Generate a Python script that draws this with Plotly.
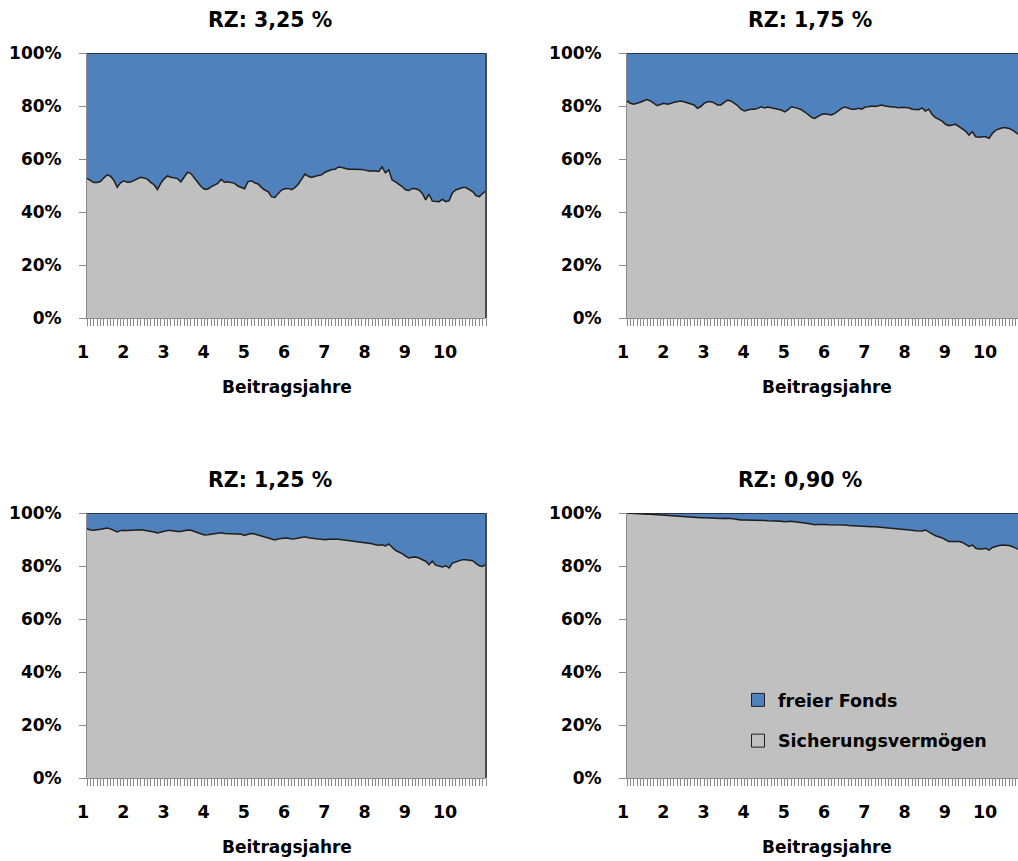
import plotly.graph_objects as go

# Monthly share of the guarantee assets (Sicherungsvermögen) in % over ten contribution years
months = list(range(120))
year_ticks = [0, 12, 24, 36, 48, 60, 72, 84, 96, 108]
year_labels = ["1", "2", "3", "4", "5", "6", "7", "8", "9", "10"]
pct_ticks = [0, 20, 40, 60, 80, 100]
pct_labels = ["0%", "20%", "40%", "60%", "80%", "100%"]

titles = ["RZ: 3,25 %", "RZ: 1,75 %", "RZ: 1,25 %", "RZ: 0,90 %"]
series_names = ["freier Fonds", "Sicherungsvermögen"]

sich_325 = [
    52.7, 52.0, 51.1, 51.1, 51.5, 52.8, 54.0, 53.5, 52.0, 49.3,
    51.0, 51.8, 51.2, 51.3, 52.0, 52.7, 53.1, 52.8, 52.4, 51.2,
    50.3, 48.5, 50.8, 52.5, 53.6, 53.1, 52.8, 52.6, 51.4, 53.3,
    55.0, 54.5, 53.0, 51.3, 49.6, 48.6, 48.6, 49.5, 50.2, 50.8,
    52.3, 51.2, 51.4, 51.1, 50.8, 49.8, 49.2, 48.8, 51.4, 51.8,
    51.0, 50.6, 49.3, 48.3, 47.7, 45.8, 45.5, 46.8, 48.3, 48.8,
    48.9, 48.4, 49.2, 50.5, 52.5, 54.3, 53.5, 53.0, 53.5, 53.8,
    54.0, 55.0, 55.5, 56.0, 56.1, 57.0, 56.8, 56.3, 56.1, 56.1,
    56.1, 56.1, 56.0, 55.8, 55.5, 55.6, 55.5, 55.3, 57.0, 54.8,
    55.9, 52.1, 51.4, 50.6, 49.6, 48.4, 48.1, 48.9, 48.8, 48.3,
    47.0, 44.6, 46.7, 44.1, 43.9, 43.9, 44.8, 43.9, 44.3, 47.3,
    48.3, 48.8, 49.2, 49.2, 48.5, 47.7, 46.2, 45.8, 47.0, 48.1,
]

sich_175 = [
    81.9, 81.0, 80.7, 81.0, 81.4, 82.0, 82.4, 81.9, 81.0, 80.1,
    80.6, 81.0, 80.7, 80.9, 81.4, 81.6, 81.9, 81.6, 81.2, 80.7,
    80.4, 79.1, 79.8, 81.0, 81.6, 81.6, 81.2, 80.4, 80.4, 81.4,
    82.2, 81.9, 81.0, 80.1, 78.8, 78.1, 78.5, 78.8, 78.8, 79.1,
    79.7, 79.3, 79.6, 79.3, 79.1, 78.8, 78.5, 77.8, 78.5, 79.7,
    79.5, 79.1, 78.6, 77.8, 76.8, 75.7, 75.3, 76.1, 76.8, 77.1,
    76.8, 76.6, 77.2, 78.1, 79.1, 79.6, 79.1, 78.8, 78.8, 79.1,
    78.8, 79.6, 79.7, 80.0, 79.8, 80.1, 80.4, 80.0, 79.7, 79.6,
    79.6, 79.3, 79.5, 79.3, 79.3, 78.8, 78.8, 78.6, 79.3, 78.1,
    78.8, 76.8, 75.6, 75.1, 74.3, 73.1, 72.6, 72.8, 73.1, 72.2,
    71.5, 70.5, 69.0, 70.3, 68.4, 68.2, 68.4, 68.4, 67.8, 69.7,
    70.9, 71.5, 71.8, 71.8, 71.5, 70.9, 70.0, 69.0, 68.6, 68.9,
]

sich_125 = [
    94.1, 93.6, 93.5, 93.6, 93.85, 94.1, 94.35, 94.0, 93.5, 92.85,
    93.35, 93.5, 93.35, 93.5, 93.6, 93.6, 93.7, 93.5, 93.35, 93.1,
    92.85, 92.5, 92.85, 93.2, 93.35, 93.35, 93.1, 93.0, 93.0, 93.35,
    93.6, 93.5, 93.1, 92.5, 92.0, 91.7, 91.8, 92.0, 92.0, 92.2,
    92.5, 92.3, 92.3, 92.3, 92.2, 92.1, 92.0, 91.5, 92.0, 92.3,
    92.1, 91.7, 91.5, 91.1, 90.6, 90.1, 89.8, 90.2, 90.45, 90.6,
    90.45, 90.2, 90.3, 90.6, 90.8, 91.0, 90.7, 90.45, 90.3, 90.2,
    90.1, 89.95, 90.1, 90.2, 90.1, 90.1, 89.95, 89.7, 89.6, 89.45,
    89.3, 89.2, 89.07, 88.8, 88.7, 88.4, 88.05, 87.8, 88.05, 87.6,
    88.3, 87.1, 85.9, 85.3, 84.7, 83.7, 83.0, 83.3, 83.4, 83.0,
    82.4, 81.8, 80.5, 81.8, 80.3, 79.8, 79.6, 80.1, 79.3, 81.1,
    81.5, 82.0, 82.4, 82.4, 82.3, 82.0, 81.0, 80.1, 79.8, 80.8,
]

sich_090 = [
    100.0, 99.87, 99.75, 99.75, 99.6, 99.6, 99.5, 99.5, 99.4, 99.25,
    99.25, 99.1, 99.0, 99.0, 98.9, 98.7, 98.7, 98.6, 98.5, 98.5,
    98.4, 98.2, 98.2, 98.2, 98.1, 98.1, 98.0, 98.0, 97.9, 98.0,
    98.0, 97.9, 97.7, 97.5, 97.4, 97.4, 97.4, 97.4, 97.4, 97.2,
    97.2, 97.2, 97.1, 97.1, 97.0, 97.0, 96.9, 96.7, 96.9, 96.9,
    96.7, 96.6, 96.5, 96.2, 96.0, 95.7, 95.6, 95.7, 95.8, 95.7,
    95.6, 95.6, 95.5, 95.5, 95.5, 95.5, 95.3, 95.2, 95.1, 95.1,
    95.1, 95.0, 94.8, 94.8, 94.8, 94.7, 94.6, 94.5, 94.3, 94.2,
    94.1, 94.0, 93.8, 93.7, 93.6, 93.5, 93.3, 93.2, 93.2, 93.6,
    93.0, 92.1, 91.4, 91.1, 90.6, 89.9, 89.2, 89.2, 89.3, 89.2,
    88.9, 88.3, 87.4, 87.9, 86.7, 86.4, 86.4, 86.7, 86.0, 87.0,
    87.4, 87.7, 87.9, 87.9, 87.7, 87.3, 86.7, 85.9, 85.5, 85.8,
]

panels = [sich_325, sich_175, sich_125, sich_090]

BLUE = "#4F81BD"
GREY = "#C0C0C0"
EDGE = "#1E1E1E"
AXIS = "#8A8A8A"
FONT = "DejaVu Sans"

W, H = 1018, 861


def px_x(p):
    return p / W


def px_y(p):
    return 1 - p / H


# plot areas in pixels: (left, right, top, bottom)
areas = [(87, 486, 53, 318), (627, 1018, 53, 318),
         (87, 486, 513, 778), (627, 1018, 513, 778)]
month_px = (486 - 87) / 119.0
title_pos = [(270, 20), (810, 20), (270, 480), (800, 480)]
xlabel_pos = [(287, 387), (827, 387), (287, 847), (827, 847)]

fig = go.Figure()
layout = dict(
    template="none",
    width=W, height=H, autosize=False,
    margin=dict(l=0, r=0, t=0, b=0, pad=0, autoexpand=False),
    paper_bgcolor="white", plot_bgcolor="white",
    font=dict(family=FONT, size=17, color="black", weight="bold"),
    showlegend=True,
    annotations=[], shapes=[],
)

for i, sich in enumerate(panels):
    n = "" if i == 0 else str(i + 1)
    xa, ya = "x" + n, "y" + n
    fonds = [round(100 - v, 2) for v in sich]
    fig.add_trace(go.Scatter(
        x=months, y=sich, xaxis=xa, yaxis=ya, stackgroup="s" + n,
        mode="lines", line=dict(color=EDGE, width=1.5),
        fillcolor=GREY, name=series_names[1], showlegend=False,
        hoverinfo="skip"))
    fig.add_trace(go.Scatter(
        x=months, y=fonds, xaxis=xa, yaxis=ya, stackgroup="s" + n,
        mode="lines", line=dict(color=EDGE, width=1.5),
        fillcolor=BLUE, name=series_names[0], showlegend=False,
        hoverinfo="skip"))

    l, r, t, b = areas[i]
    xmax = (r - l) / month_px
    layout["xaxis" + n] = dict(
        domain=[px_x(l), px_x(r)], anchor=ya, range=[0, xmax],
        automargin=False,
        tickmode="array", tickvals=year_ticks, ticktext=year_labels,
        ticks="outside", ticklen=7, tickcolor=AXIS, tickwidth=1,
        minor=dict(tick0=0, dtick=1, ticks="outside", ticklen=7,
                   tickcolor=AXIS, tickwidth=1, showgrid=False),
        showline=True, linecolor=AXIS, linewidth=1, showgrid=False,
        zeroline=False, ticklabelstandoff=11, ticklabelshift=-4,
        tickfont=dict(family=FONT, size=17.5, color="black", weight="bold"),
    )
    layout["yaxis" + n] = dict(
        domain=[px_y(b), px_y(t)], anchor=xa, range=[0, 100],
        automargin=False,
        tickmode="array", tickvals=pct_ticks, ticktext=pct_labels,
        ticks="outside", ticklen=7, tickcolor=AXIS, tickwidth=1,
        showline=True, linecolor=AXIS, linewidth=1, showgrid=False,
        zeroline=False, ticklabelstandoff=14,
        tickfont=dict(family=FONT, size=17, color="black", weight="bold"),
    )
    if r < W:
        layout["shapes"].append(dict(
            type="line", xref=xa + " domain", yref=ya + " domain",
            x0=1, x1=1, y0=0, y1=1, line=dict(color="#4A4A4A", width=2)))
    tx, ty = title_pos[i]
    layout["annotations"].append(dict(
        text=titles[i], x=px_x(tx), y=px_y(ty), xref="paper", yref="paper",
        xanchor="center", yanchor="middle", showarrow=False,
        font=dict(family=FONT, size=20.5, color="black", weight="bold")))
    lx, ly = xlabel_pos[i]
    layout["annotations"].append(dict(
        text="Beitragsjahre", x=px_x(lx), y=px_y(ly), xref="paper",
        yref="paper", xanchor="center", yanchor="middle", showarrow=False,
        font=dict(family=FONT, size=17, color="black", weight="bold")))

# legend entries drawn inside the last panel
for name, color, grp in [(series_names[0], BLUE, "a"), (series_names[1], GREY, "b")]:
    fig.add_trace(go.Scatter(
        x=[None], y=[None], xaxis="x4", yaxis="y4", mode="markers",
        marker=dict(symbol="square", size=13, color=color,
                    line=dict(color="#202020", width=1)),
        name=name, legendgroup=grp, showlegend=True))

layout["legend"] = dict(
    x=px_x(738), y=px_y(682), xanchor="left", yanchor="top",
    bgcolor="rgba(0,0,0,0)", borderwidth=0, traceorder="grouped",
    tracegroupgap=15, itemsizing="trace",
    font=dict(family=FONT, size=17.5, color="black", weight="bold"))

fig.update_layout(**layout)
fig.write_html("out.html")
